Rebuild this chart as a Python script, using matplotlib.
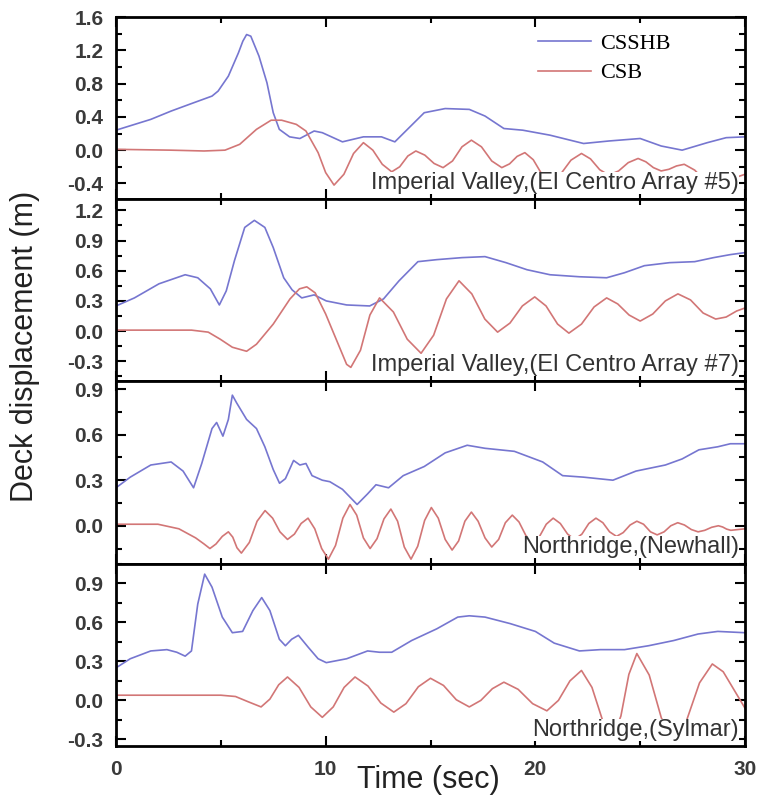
import matplotlib
matplotlib.use('Agg')
import matplotlib.pyplot as plt
from matplotlib.ticker import MultipleLocator

# time (s) and deck displacement (m)
t_csshb_1 = [0, 1.66, 2.63, 3.6, 4.58, 4.87, 5.36, 5.84, 6.05, 6.23, 6.43, 6.82, 7.2, 7.5, 7.79,
             8.28, 8.77, 9.45, 9.84, 10.8, 11.8, 12.66, 13.3, 13.9, 14.7, 15.7, 16.85, 17.6, 18.5,
             19.4, 20.7, 22.3, 23.5, 25.0, 26.0, 27.0, 28.2, 29.1, 30]
d_csshb_1 = [0.24, 0.37, 0.47, 0.56, 0.65, 0.71, 0.89, 1.17, 1.31, 1.39, 1.37, 1.13, 0.81, 0.45, 0.25,
             0.16, 0.14, 0.23, 0.21, 0.10, 0.16, 0.16, 0.10, 0.25, 0.45, 0.50, 0.49, 0.41, 0.26,
             0.24, 0.18, 0.08, 0.11, 0.14, 0.05, 0.0, 0.09, 0.15, 0.16]
t_csb_1 = [0, 2.6, 4.2, 5.2, 5.9, 6.7, 7.4, 7.9, 8.6, 9.06, 9.64, 10.0, 10.4, 10.87, 11.33, 11.8,
           12.25, 12.7, 13.15, 13.53, 13.92, 14.3, 14.73, 15.17, 15.6, 16.05, 16.5, 16.95, 17.43,
           17.92, 18.4, 18.77, 19.13, 19.5, 19.9, 20.3, 20.7, 21.2, 21.7, 22.2, 22.63, 23.07, 23.5,
           23.97, 24.43, 24.9, 25.27, 25.63, 26.0, 26.37, 26.73, 27.1, 27.6, 28.1, 28.6, 29.07,
           29.53, 30]
d_csb_1 = [0.01, 0.0, -0.01, 0.0, 0.07, 0.25, 0.36, 0.36, 0.31, 0.23, -0.03, -0.27, -0.42, -0.29,
           -0.04, 0.09, 0.0, -0.17, -0.26, -0.2, -0.07, -0.01, -0.06, -0.16, -0.21, -0.13, 0.04,
           0.12, 0.04, -0.13, -0.21, -0.165, -0.075, -0.03, -0.115, -0.285, -0.37, -0.29, -0.12,
           -0.04, -0.105, -0.235, -0.30, -0.25, -0.15, -0.10, -0.14, -0.21, -0.25, -0.23, -0.19,
           -0.17, -0.24, -0.37, -0.44, -0.40, -0.33, -0.29]

t_csshb_2 = [0, 0.88, 2.05, 3.3, 3.9, 4.5, 4.93, 5.26, 5.65, 6.14, 6.6, 7.1, 7.5, 8.0, 8.4, 8.86,
             9.45, 10.03, 11.0, 12.1, 12.76, 13.5, 14.4, 15.3, 16.5, 17.6, 18.6, 19.6, 20.7, 22.1,
             23.4, 24.25, 25.2, 26.4, 27.6, 28.5, 29.3, 30]
d_csshb_2 = [0.25, 0.33, 0.47, 0.56, 0.53, 0.42, 0.26, 0.40, 0.70, 1.03, 1.10, 1.03, 0.83, 0.53,
             0.41, 0.33, 0.36, 0.30, 0.26, 0.25, 0.32, 0.50, 0.69, 0.71, 0.73, 0.74, 0.68, 0.61,
             0.56, 0.54, 0.53, 0.58, 0.65, 0.68, 0.69, 0.73, 0.76, 0.78]
t_csb_2 = [0, 1.66, 3.6, 4.4, 4.97, 5.55, 6.23, 6.7, 7.5, 8.3, 8.75, 9.1, 9.5, 10.0, 10.6, 11.0,
           11.2, 11.66, 12.11, 12.57, 13.23, 13.89, 14.55, 15.15, 15.76, 16.36, 16.97, 17.59,
           18.2, 18.79, 19.38, 19.97, 20.51, 21.06, 21.6, 22.2, 22.8, 23.4, 23.93, 24.47, 25.0,
           25.6, 26.2, 26.8, 27.4, 28.0, 28.6, 29.1, 29.6, 30]
d_csb_2 = [0.01, 0.01, 0.01, -0.01, -0.08, -0.16, -0.20, -0.13, 0.07, 0.32, 0.42, 0.44, 0.38,
           0.17, -0.13, -0.33, -0.36, -0.19, 0.16, 0.33, 0.19, -0.08, -0.22, -0.04, 0.32, 0.50,
           0.37, 0.12, -0.01, 0.08, 0.25, 0.34, 0.25, 0.07, -0.02, 0.07, 0.24, 0.33, 0.27, 0.16,
           0.10, 0.17, 0.30, 0.37, 0.31, 0.18, 0.12, 0.14, 0.20, 0.23]

t_csshb_3 = [0, 0.68, 1.66, 2.63, 3.2, 3.7, 4.09, 4.58, 4.8, 5.1, 5.36, 5.55, 5.75, 6.23, 6.7, 7.1,
             7.5, 7.8, 8.08, 8.47, 8.77, 9.06, 9.35, 9.84, 10.2, 10.8, 11.5, 12.0, 12.4, 13.0,
             13.7, 14.7, 15.7, 16.75, 17.6, 19.0, 20.35, 21.3, 22.3, 23.7, 24.8, 26.2, 27.0, 27.8,
             28.7, 29.3, 30]
d_csshb_3 = [0.25, 0.32, 0.40, 0.42, 0.36, 0.25, 0.41, 0.64, 0.68, 0.59, 0.70, 0.86, 0.81, 0.70,
             0.64, 0.52, 0.37, 0.28, 0.31, 0.43, 0.40, 0.41, 0.33, 0.30, 0.29, 0.24, 0.14, 0.21,
             0.27, 0.25, 0.33, 0.39, 0.48, 0.53, 0.51, 0.49, 0.42, 0.33, 0.32, 0.30, 0.36, 0.40,
             0.44, 0.50, 0.52, 0.54, 0.54]
t_csb_3 = [0, 2.0, 3.0, 3.8, 4.2, 4.48, 4.77, 5.07, 5.36, 5.57, 5.77, 5.98, 6.36, 6.73, 7.11,
           7.47, 7.82, 8.18, 8.51, 8.83, 9.16, 9.48, 9.81, 10.13, 10.47, 10.82, 11.16, 11.48,
           11.8, 12.12, 12.45, 12.78, 13.11, 13.43, 13.75, 14.07, 14.39, 14.72, 15.04, 15.37,
           15.7, 16.03, 16.34, 16.64, 16.95, 17.27, 17.6, 17.92, 18.25, 18.57, 18.9, 19.22,
           19.55, 19.87, 20.2, 20.52, 20.85, 21.19, 21.54, 21.88, 22.22, 22.55, 22.89, 23.22,
           23.54, 23.87, 24.19, 24.52, 24.84, 25.16, 25.49, 25.81, 26.14, 26.46, 26.79, 27.11,
           27.44, 27.76, 28.08, 28.41, 28.73, 28.93, 29.12, 29.32, 30]
d_csb_3 = [0.01, 0.01, -0.02, -0.08, -0.12, -0.15, -0.12, -0.07, -0.04, -0.075, -0.145, -0.18,
           -0.11, 0.03, 0.10, 0.05, -0.04, -0.09, -0.055, 0.015, 0.05, -0.02, -0.15, -0.22,
           -0.13, 0.05, 0.14, 0.07, -0.08, -0.15, -0.085, 0.045, 0.11, 0.03, -0.14, -0.22,
           -0.135, 0.035, 0.12, 0.05, -0.09, -0.16, -0.10, 0.03, 0.09, 0.03, -0.08, -0.14,
           -0.09, 0.02, 0.07, 0.025, -0.065, -0.11, -0.07, 0.01, 0.05, 0.015, -0.055, -0.09,
           -0.055, 0.015, 0.05, 0.02, -0.04, -0.07, -0.045, 0.005, 0.03, 0.01, -0.04, -0.06,
           -0.04, 0.0, 0.02, 0.005, -0.025, -0.04, -0.03, -0.01, 0.0, -0.008, -0.022, -0.03,
           -0.02]

t_csshb_4 = [0, 0.68, 1.66, 2.43, 2.9, 3.3, 3.6, 3.9, 4.23, 4.58, 5.07, 5.55, 6.04, 6.53, 6.95,
             7.34, 7.79, 8.08, 8.38, 8.7, 9.16, 9.64, 10.03, 11.0, 12.0, 12.57, 13.15, 14.1, 15.3,
             16.3, 16.85, 17.6, 18.8, 20.0, 20.9, 22.1, 23.1, 24.25, 25.4, 26.6, 27.76, 28.7, 30]
d_csshb_4 = [0.25, 0.32, 0.38, 0.39, 0.37, 0.34, 0.38, 0.74, 0.97, 0.87, 0.64, 0.52, 0.53, 0.69,
             0.79, 0.69, 0.47, 0.42, 0.47, 0.50, 0.41, 0.32, 0.29, 0.32, 0.38, 0.37, 0.37, 0.46,
             0.55, 0.64, 0.65, 0.64, 0.59, 0.53, 0.44, 0.38, 0.39, 0.39, 0.42, 0.46, 0.51, 0.53,
             0.52]
t_csb_4 = [0, 5.0, 5.7, 6.3, 6.92, 7.34, 7.76, 8.18, 8.73, 9.29, 9.84, 10.36, 10.88, 11.4, 12.02,
           12.63, 13.25, 13.83, 14.42, 15.0, 15.62, 16.23, 16.85, 17.4, 17.95, 18.5, 19.18,
           19.87, 20.55, 21.1, 21.65, 22.2, 22.7, 23.2, 23.7, 24.08, 24.46, 24.84, 25.43, 26.01,
           26.6, 27.21, 27.83, 28.44, 28.96, 29.48, 30]
d_csb_4 = [0.04, 0.04, 0.03, -0.01, -0.05, 0.01, 0.12, 0.18, 0.10, -0.05, -0.13, -0.05, 0.10,
           0.18, 0.11, -0.02, -0.09, -0.025, 0.105, 0.17, 0.115, 0.005, -0.05, 0.0, 0.09, 0.14,
           0.085, -0.025, -0.08, 0.0, 0.15, 0.23, 0.10, -0.15, -0.28, -0.12, 0.20, 0.36, 0.195,
           -0.135, -0.30, -0.155, 0.135, 0.28, 0.22, 0.08, -0.06]

records = ['Imperial Valley,(El Centro Array #5)',
           'Imperial Valley,(El Centro Array #7)',
           'Northridge,(Newhall)',
           'Northridge,(Sylmar)']
series_names = ['CSSHB', 'CSB']

BLUE = '#7676d0'
RED = '#d27676'

plt.rcParams['font.family'] = ['Liberation Sans', 'DejaVu Sans']
plt.rcParams['axes.unicode_minus'] = False

panels = [
    (t_csshb_1, d_csshb_1, t_csb_1, d_csb_1, (-0.59, 1.601), 0.4),
    (t_csshb_2, d_csshb_2, t_csb_2, d_csb_2, (-0.5, 1.31), 0.3),
    (t_csshb_3, d_csshb_3, t_csb_3, d_csb_3, (-0.25, 0.95), 0.3),
    (t_csshb_4, d_csshb_4, t_csb_4, d_csb_4, (-0.35, 1.05), 0.3),
]

fig, axes = plt.subplots(4, 1, sharex=True, figsize=(7.59, 8.01), dpi=100,
                         gridspec_kw=dict(hspace=0))
fig.subplots_adjust(left=0.1528, right=0.9816, top=0.9788, bottom=0.0687)

for ax, (tb, db, tr, dr, ylim, step), rec in zip(axes, panels, records):
    ax.plot(tb, db, color=BLUE, lw=1.2, label=series_names[0], zorder=2,
            solid_joinstyle='round')
    ax.plot(tr, dr, color=RED, lw=1.2, label=series_names[1], zorder=2,
            solid_joinstyle='round')
    ax.set_xlim(0, 30)
    ax.set_ylim(*ylim)
    ax.xaxis.set_major_locator(MultipleLocator(10))
    ax.xaxis.set_minor_locator(MultipleLocator(5))
    ax.yaxis.set_major_locator(MultipleLocator(step))
    ax.yaxis.set_minor_locator(MultipleLocator(step / 2))
    ax.tick_params(which='both', direction='in', top=True, right=True, width=1.5,
                   labelsize=15, labelcolor='#3a3a3a', pad=9)
    ax.tick_params(which='major', length=7)
    ax.tick_params(which='minor', length=4)
    for lab in ax.get_yticklabels() + ax.get_xticklabels():
        lab.set_fontweight('bold')
    for sp in ax.spines.values():
        sp.set_linewidth(2.0)
    ax.text(0.99, 0.09, rec, transform=ax.transAxes, ha='right', va='center',
            fontsize=17, color='#333333', zorder=3,
            bbox=dict(facecolor='white', edgecolor='none', pad=0))

axes[-1].tick_params(axis='x', pad=10)

axes[0].legend(loc='upper left', bbox_to_anchor=(0.671, 0.91), frameon=False,
               prop={'family': 'Liberation Serif', 'size': 16}, handlelength=2.4,
               handletextpad=0.4, labelspacing=0.4, borderpad=0, borderaxespad=0)

fig.text(0.033, 0.567, 'Deck displacement (m)', rotation=90, ha='center', va='center',
         fontsize=22, color='#222222')
fig.text(0.564, 0.026, 'Time (sec)', ha='center', va='center', fontsize=22, color='#222222')

fig.savefig('out.png', dpi=100)
